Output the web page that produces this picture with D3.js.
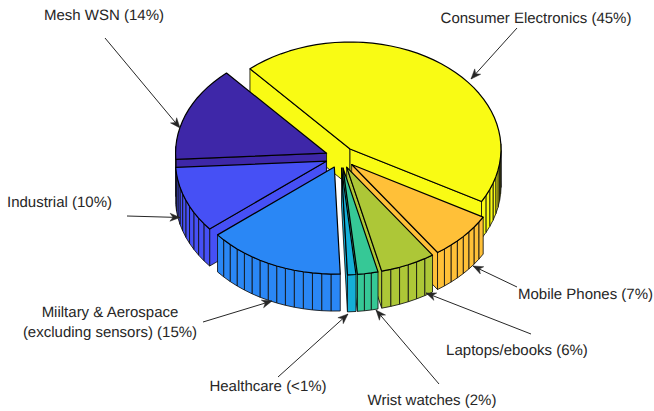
<!DOCTYPE html>
<html><head><meta charset="utf-8">
<script src="https://cdn.jsdelivr.net/npm/d3@7/dist/d3.min.js"></script>
<style>html,body{margin:0;padding:0;background:#fff}svg{display:block}text{text-rendering:geometricPrecision}</style>
</head><body><svg id="c" width="654" height="411"></svg>
<script>
const categories = ["Consumer Electronics","Mobile Phones","Laptops/ebooks","Wrist watches","Healthcare","Military & Aerospace","Industrial","Mesh WSN"];
const shares = [44.7,7.2,5.9,2.2,0.9,14.7,10,14.4];
const colors = ["#f9fb14","#ffc038","#adc737","#36c896","#15afd7","#2a87f5","#4650f5","#3e27a8"];
const drawOrder = [0,7,6,1,2,3,4,5];

const svg = d3.select("#c");
const x = d3.scaleLinear().domain([-1,1]).range([189.5,491.5]);
const y = d3.scaleLinear().domain([-1,1]).range([264.3,50.3]);
const wallDepth = 37, explode = 0.1;
const line = d3.line();
const pie = d3.pie().sort(null).value(d=>d).startAngle(-41.5*Math.PI/180).endAngle(318.5*Math.PI/180);
const arcs = pie(shares);
const P = (mx,my,drop=0)=>[x(mx),y(my)+drop];

drawOrder.forEach(i=>{
  const s = arcs[i], col = colors[i];
  const a0 = Math.PI/2 - s.startAngle, a1 = Math.PI/2 - s.endAngle, mid=(a0+a1)/2;
  const ox = explode*Math.cos(mid), oy = explode*Math.sin(mid);
  const n = Math.ceil(shares[i]);
  const rim = d3.range(n+1).map(k=>{const t=a0+(a1-a0)*k/n;return [ox+Math.cos(t),oy+Math.sin(t),t];});
  const g = svg.append("g");
  const wall = pts => g.append("path").attr("d",line(pts)+"Z").attr("fill",col)
      .attr("stroke","#111").attr("stroke-width",0.85).attr("stroke-linejoin","round");
  if(Math.cos(a0)<0) wall([P(ox,oy),P(rim[0][0],rim[0][1]),P(rim[0][0],rim[0][1],wallDepth),P(ox,oy,wallDepth)]);
  if(Math.cos(a1)>0) wall([P(ox,oy),P(rim[n][0],rim[n][1]),P(rim[n][0],rim[n][1],wallDepth),P(ox,oy,wallDepth)]);
  for(let k=0;k<n;k++){
    if(Math.sin((rim[k][2]+rim[k+1][2])/2)<0.05)
      wall([P(rim[k][0],rim[k][1]),P(rim[k+1][0],rim[k+1][1]),P(rim[k+1][0],rim[k+1][1],wallDepth),P(rim[k][0],rim[k][1],wallDepth)]);
  }
  g.append("path").attr("d",line([P(ox,oy),...rim.map(r=>P(r[0],r[1]))])+"Z").attr("fill",col)
    .attr("stroke","#000").attr("stroke-width",1.2).attr("stroke-linejoin","round");
});

const labels = [
 {lines:["Consumer Electronics (45%)"],cx:536,by:[23],from:[517,28],to:[471,79]},
 {lines:["Mobile Phones (7%)"],cx:585.5,by:[299],from:[517,287],to:[473,266]},
 {lines:["Laptops/ebooks (6%)"],cx:517,by:[355],from:[531,334],to:[426,293]},
 {lines:["Wrist watches (2%)"],cx:432,by:[405],from:[439,384],to:[376,310]},
 {lines:["Healthcare (<1%)"],cx:268,by:[391],from:[278,377],to:[348,314]},
 {lines:["Miiltary & Aerospace","(excluding sensors) (15%)"],cx:110,by:[317,337],from:[203,322],to:[272,301]},
 {lines:["Industrial (10%)"],cx:59.5,by:[207],from:[127,216],to:[180,217.5]},
 {lines:["Mesh WSN (14%)"],cx:104,by:[20],from:[105,38],to:[180,128]}
];
labels.forEach(l=>{
  svg.append("line").attr("x1",l.from[0]).attr("y1",l.from[1]).attr("x2",l.to[0]).attr("y2",l.to[1])
    .attr("stroke","#262626").attr("stroke-width",1);
  const ang=Math.atan2(l.to[1]-l.from[1],l.to[0]-l.from[0]);
  const loc=(d,w)=>[l.to[0]-d*Math.cos(ang)-w*Math.sin(ang), l.to[1]-d*Math.sin(ang)+w*Math.cos(ang)];
  svg.append("path").attr("d",line([l.to,loc(10,4),loc(7,0),loc(10,-4)])+"Z").attr("fill","#262626").attr("stroke","#262626").attr("stroke-width",.5);
  l.lines.forEach((t,i)=>svg.append("text").attr("x",l.cx).attr("y",l.by[i]).attr("text-anchor","middle")
    .attr("font-family","'Liberation Sans',Arial,sans-serif").attr("font-size",15).attr("fill","#262626").text(t));
});
</script></body></html>
